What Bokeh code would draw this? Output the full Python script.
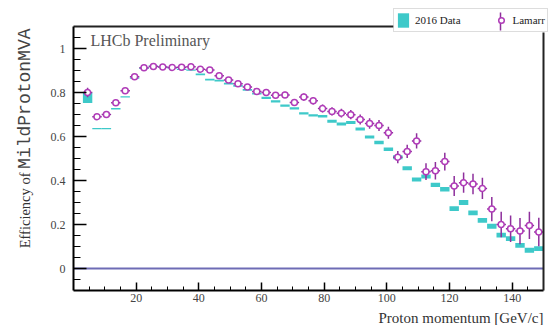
import math
from bokeh.plotting import figure
from bokeh.models import (Range1d, FixedTicker, Label, Legend, LegendItem,
                          ColumnDataSource, LinearAxis)
from bokeh.embed import file_html
from bokeh.resources import INLINE

# ---------------- data ----------------
bin_centers = [4.5, 7.5, 10.5, 13.5, 16.5, 19.5, 22.5, 25.5, 28.5, 31.5,
               34.5, 37.5, 40.5, 43.5, 46.5, 49.5, 52.5, 55.5, 58.5, 61.5,
               64.5, 67.5, 70.5, 73.5, 76.5, 79.5, 82.5, 85.5, 88.5, 91.5,
               94.5, 97.5, 100.5, 103.5, 106.5, 109.5, 112.5, 115.5, 118.5, 121.5,
               124.5, 127.5, 130.5, 133.5, 136.5, 139.5, 142.5, 145.5, 148.5]
bin_half_width = 1.5

data2016_eff = [0.776, 0.636, 0.636, 0.726, 0.780, 0.865, 0.910, 0.920, 0.915, 0.912,
                0.905, 0.902, 0.882, 0.858, 0.854, 0.840, 0.830, 0.812, 0.795, 0.776,
                0.760, 0.740, 0.728, 0.705, 0.696, 0.692, 0.669, 0.657, 0.664, 0.634,
                0.598, 0.573, 0.542, 0.506, 0.456, 0.405, 0.418, 0.380, 0.360, 0.272,
                0.300, 0.253, 0.219, 0.192, 0.152, 0.136, 0.105, 0.083, 0.090]
data2016_err = [0.024, 0.003, 0.003, 0.003, 0.003, 0.003, 0.003, 0.003, 0.003, 0.003,
                0.003, 0.003, 0.004, 0.004, 0.004, 0.004, 0.004, 0.004, 0.004, 0.005,
                0.005, 0.005, 0.005, 0.005, 0.005, 0.006, 0.007, 0.007, 0.007, 0.007,
                0.007, 0.008, 0.008, 0.009, 0.009, 0.009, 0.009, 0.010, 0.010, 0.011,
                0.011, 0.011, 0.011, 0.011, 0.011, 0.011, 0.011, 0.011, 0.011]

lamarr_eff = [0.800, 0.690, 0.700, 0.753, 0.808, 0.872, 0.912, 0.918, 0.916, 0.914,
              0.915, 0.917, 0.906, 0.902, 0.876, 0.857, 0.840, 0.825, 0.805, 0.800,
              0.787, 0.789, 0.755, 0.779, 0.762, 0.727, 0.714, 0.706, 0.699, 0.677,
              0.659, 0.650, 0.617, 0.506, 0.532, 0.580, 0.440, 0.444, 0.486, 0.375,
              0.390, 0.384, 0.364, 0.270, 0.200, 0.181, 0.170, 0.196, 0.166]
lamarr_err = [0.022, 0.008, 0.008, 0.008, 0.007, 0.006, 0.006, 0.006, 0.006, 0.006,
              0.006, 0.007, 0.007, 0.008, 0.008, 0.009, 0.009, 0.010, 0.011, 0.012,
              0.013, 0.014, 0.015, 0.016, 0.017, 0.018, 0.019, 0.020, 0.021, 0.023,
              0.024, 0.025, 0.027, 0.028, 0.030, 0.035, 0.038, 0.040, 0.040, 0.045,
              0.046, 0.047, 0.048, 0.055, 0.058, 0.060, 0.060, 0.062, 0.065]

x_lo, x_hi = 0, 150          # plotted momentum range
y_lo, y_hi = -0.1, 1.1       # plotted efficiency range
x_major_ticks = [20, 40, 60, 80, 100, 120, 140]
x_minor_ticks = [5, 10, 15, 25, 30, 35, 45, 50, 55, 65, 70, 75, 85, 90, 95,
                 105, 110, 115, 125, 130, 135, 145]
y_major_ticks = [0, 0.2, 0.4, 0.6, 0.8, 1]
y_tick_labels = {0: "0", 0.2: "0.2", 0.4: "0.4", 0.6: "0.6", 0.8: "0.8", 1: "1"}
y_minor_ticks = [-0.05, 0.05, 0.1, 0.15, 0.25, 0.3, 0.35, 0.45, 0.5, 0.55,
                 0.65, 0.7, 0.75, 0.85, 0.9, 0.95, 1.05]
zero_level = 0.0

CYAN = "#3ec9c9"
PURPLE_LINE = "#8e2f9c"
PURPLE_MARK = "#b03cb8"
SERIF = "Liberation Serif"

# canvas geometry: plot area spans pixels x 73..543, y 26..290 of a 556x325 canvas
W, H = 556, 325
L_PX, R_PX, T_PX, B_PX = 73, 543, 26, 290
sx = (R_PX - L_PX) / (x_hi - x_lo)
sy = (B_PX - T_PX) / (y_hi - y_lo)
x_start = x_lo - L_PX / sx
x_end = x_hi + (W - R_PX) / sx
y_end = y_hi + T_PX / sy
y_start = y_lo - (H - B_PX) / sy


def px_to_x(px):
    return x_lo + (px - L_PX) / sx


def py_to_y(py):
    return y_hi - (py - T_PX) / sy


# legend box (pixels): left 393, top 10, bottom 32
LEG_L, LEG_T, LEG_B = 393, 10, 32

# ---------------- figure ----------------
p = figure(width=W, height=H, x_range=Range1d(x_start, x_end), y_range=Range1d(y_start, y_end),
           output_backend="svg", toolbar_location=None,
           x_axis_location=None, y_axis_location=None, min_border=0)
p.grid.visible = False
p.background_fill_color = "white"
p.border_fill_color = "white"
p.outline_line_color = None


def style_axis(ax):
    ax.axis_line_color = "black"
    ax.axis_line_width = 2
    ax.major_tick_line_color = "black"
    ax.major_tick_line_width = 1.5
    ax.minor_tick_line_color = "black"
    ax.minor_tick_line_width = 1
    ax.major_tick_out = 0
    ax.minor_tick_out = 0
    ax.major_label_text_font = SERIF
    ax.major_label_text_font_size = "12px"
    ax.major_label_text_color = "#444444"


xaxis = LinearAxis(fixed_location=y_lo, bounds=(x_lo, x_hi),
                   ticker=FixedTicker(ticks=x_major_ticks, minor_ticks=x_minor_ticks))
style_axis(xaxis)
xaxis.major_tick_in = 8
xaxis.minor_tick_in = 4
xaxis.major_label_standoff = 3
p.add_layout(xaxis, "below")

yaxis = LinearAxis(fixed_location=x_lo, bounds=(y_lo, y_hi),
                   ticker=FixedTicker(ticks=y_major_ticks, minor_ticks=y_minor_ticks))
style_axis(yaxis)
yaxis.major_label_overrides = y_tick_labels
yaxis.major_tick_in = 13
yaxis.minor_tick_in = 7
yaxis.major_label_standoff = 8
p.add_layout(yaxis, "left")

# frame lines on top and right (axes without ticks), stopping at the legend box
top_axis = LinearAxis(fixed_location=y_hi, bounds=(x_lo, px_to_x(LEG_L)), ticker=FixedTicker(ticks=[]),
                      axis_line_color="#222222", axis_line_width=2,
                      major_label_text_font_size="0px")
p.add_layout(top_axis, "above")
right_axis = LinearAxis(fixed_location=x_hi, bounds=(y_lo, py_to_y(LEG_B)), ticker=FixedTicker(ticks=[]),
                        axis_line_color="#222222", axis_line_width=2,
                        major_label_text_font_size="0px")
p.add_layout(right_axis, "right")

# ---------------- data glyphs ----------------
src16 = ColumnDataSource(dict(
    left=[c - bin_half_width for c in bin_centers],
    right=[c + bin_half_width for c in bin_centers],
    bottom=[v - e for v, e in zip(data2016_eff, data2016_err)],
    top=[v + e for v, e in zip(data2016_eff, data2016_err)],
))
r16 = p.quad(left="left", right="right", bottom="bottom", top="top", source=src16,
             fill_color=CYAN, line_color=None)

p.line(x=[x_lo, x_hi], y=[zero_level, zero_level], line_color="#6e6cb5", line_width=2)

srcL = ColumnDataSource(dict(
    x=bin_centers, y=lamarr_eff,
    ylo=[v - e for v, e in zip(lamarr_eff, lamarr_err)],
    yhi=[v + e for v, e in zip(lamarr_eff, lamarr_err)],
    xlo=[c - bin_half_width for c in bin_centers],
    xhi=[c + bin_half_width for c in bin_centers],
))
p.segment(x0="x", y0="ylo", x1="x", y1="yhi", source=srcL, line_color=PURPLE_LINE, line_width=1.5)
p.segment(x0="xlo", y0="y", x1="xhi", y1="y", source=srcL, line_color=PURPLE_LINE, line_width=1.5)
rL = p.scatter(x="x", y="y", source=srcL, marker="circle", size=6,
               line_color=PURPLE_MARK, line_width=1.5, fill_color="white")

# vertical error-bar stroke of the Lamarr legend symbol (legend is drawn transparent over it)
p.segment(x0=[px_to_x(500)], y0=[py_to_y(LEG_T + 2)], x1=[px_to_x(500)], y1=[py_to_y(LEG_B - 2)],
          line_color=PURPLE_LINE, line_width=1.5)

# ---------------- texts ----------------
p.add_layout(Label(x=5.4, y=1.036, text="LHCb Preliminary", text_font=SERIF,
                   text_font_size="16px", text_color="#555555", text_baseline="middle"))
p.add_layout(Label(x=150, y=-0.227, text="Proton momentum [GeV/c]", text_font=SERIF,
                   text_font_size="15px", text_color="#333333", text_align="right",
                   text_baseline="middle"))
p.add_layout(Label(x=-15.6, y=y_hi - 2 / sy, text="MildProtonMVA", text_font="Liberation Mono",
                   text_font_size="18px", text_color="#444444", text_align="right",
                   text_baseline="middle", angle=math.pi / 2))
p.add_layout(Label(x=-15.6, y=y_hi - 146 / sy, text="Efficiency of", text_font=SERIF,
                   text_font_size="14.5px", text_color="#333333", text_align="right",
                   text_baseline="middle", angle=math.pi / 2))

# ---------------- legend ----------------
legend = Legend(items=[LegendItem(label="2016 Data", renderers=[r16]),
                       LegendItem(label="Lamarr", renderers=[rL])],
                orientation="horizontal", location=(LEG_L, H - LEG_B),
                glyph_width=14, glyph_height=18, label_standoff=5, spacing=33,
                padding=2, margin=0, label_height=18,
                label_text_font=SERIF, label_text_font_size="11px",
                label_text_color="#222222",
                border_line_color="#bbbbbb", border_line_width=1,
                background_fill_alpha=0.0)
p.add_layout(legend, "center")

out = file_html(p, INLINE)
open("out.html", "w").write(out)
